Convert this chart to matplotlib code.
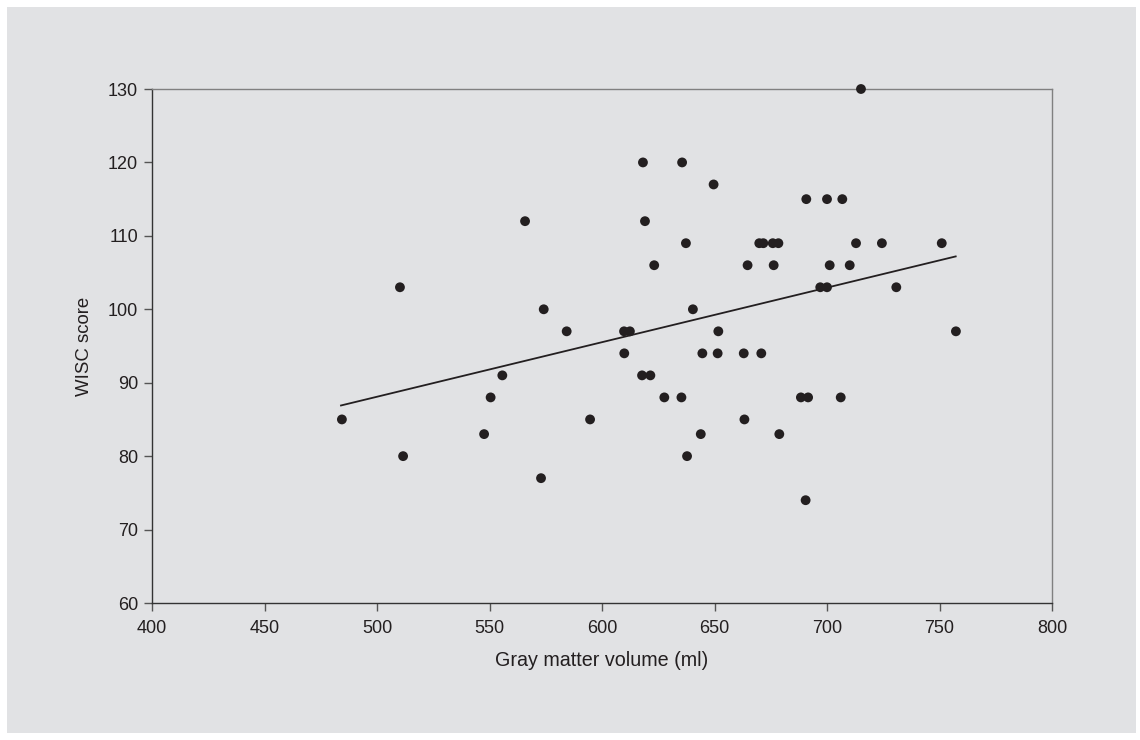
import numpy as np
import matplotlib.pyplot as plt
from matplotlib.patches import Rectangle

# Data
gray_matter = [484.4, 510.2, 511.6, 547.6, 550.5, 555.7, 565.8, 572.9, 574.1, 584.3,
               594.7, 609.8, 612.4, 609.9, 617.8, 621.5, 618.2, 619.1, 623.2, 627.7,
               635.3, 635.6, 637.3, 637.8, 640.4, 643.9, 644.6, 649.6, 651.4, 651.7,
               663.0, 663.3, 664.7, 669.9, 671.7, 670.8, 675.9, 676.3, 678.4, 678.8,
               688.4, 691.6, 690.8, 690.5, 697.0, 700.0, 700.0, 701.2, 706.1, 706.8,
               710.1, 712.9, 715.1, 724.4, 730.8, 751.0, 757.3]
wisc = [85, 103, 80, 83, 88, 91, 112, 77, 100, 97,
        85, 97, 97, 94, 91, 91, 120, 112, 106, 88,
        88, 120, 109, 80, 100, 83, 94, 117, 94, 97,
        94, 85, 106, 109, 109, 94, 109, 106, 109, 83,
        88, 88, 115, 74, 103, 103, 115, 106, 88, 115,
        106, 109, 130, 109, 103, 109, 97]
fit_x = [484.0, 757.2]
fit_y = [86.9, 107.2]

x_ticks = [400, 450, 500, 550, 600, 650, 700, 750, 800]
y_ticks = [60, 70, 80, 90, 100, 110, 120, 130]

ink = '#231f20'
panel = '#e1e2e4'

plt.rcParams['font.family'] = ['Liberation Sans', 'DejaVu Sans']

fig = plt.figure(figsize=(11.4, 7.4), dpi=100)
fig.patch.set_facecolor('white')
# light gray panel behind the whole chart
fig.patches.append(Rectangle((7 / 1140, 7 / 740), 1129 / 1140, 726 / 740,
                             transform=fig.transFigure, facecolor=panel,
                             edgecolor='none', zorder=-10))

ax = fig.add_axes([152 / 1140, 1 - 603 / 740, 900 / 1140, 514 / 740])
ax.set_facecolor(panel)

ax.plot(fit_x, fit_y, color=ink, lw=1.3, zorder=2)
ax.scatter(gray_matter, wisc, s=50, color=ink, edgecolors='none', zorder=3,
           clip_on=False)

ax.set_xlim(400, 800)
ax.set_ylim(60, 130)
ax.set_xticks(x_ticks)
ax.set_yticks(y_ticks)

for side in ['left', 'bottom']:
    ax.spines[side].set_color('#333333')
    ax.spines[side].set_linewidth(1.0)
for side in ['top', 'right']:
    ax.spines[side].set_color('#808080')
    ax.spines[side].set_linewidth(1.0)

ax.tick_params(axis='both', direction='out', length=6, width=1.0,
               color='#555555', labelsize=13, labelcolor=ink)
ax.tick_params(axis='x', pad=6)
ax.tick_params(axis='y', pad=4)

ax.set_xlabel('Gray matter volume (ml)', fontsize=14.2, color=ink, labelpad=10)
ax.set_ylabel('WISC score', fontsize=13.4, color=ink, labelpad=11)

fig.savefig('out.png', dpi=100, facecolor=fig.get_facecolor())
